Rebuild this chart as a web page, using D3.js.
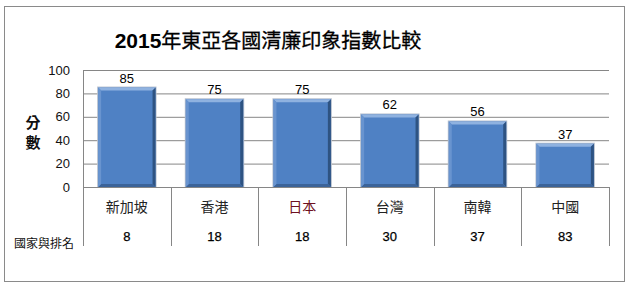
<!DOCTYPE html>
<html>
<head>
<meta charset="UTF-8">
<title>2015年東亞各國清廉印象指數比較</title>
<script src="https://cdn.jsdelivr.net/npm/d3@7"></script>
<style>
  body { margin: 0; background: #fff; }
  text { font-family: "Liberation Sans", "Noto Sans CJK TC", sans-serif; }
  .cjk { font-family: "Noto Sans CJK TC", sans-serif; }
</style>
</head>
<body>
<div id="chart"></div>
<script>
// data
var countries = ['新加坡', '香港', '日本', '台灣', '南韓', '中國'];
var scores = [85, 75, 75, 62, 56, 37];
var ranks = [8, 18, 18, 30, 37, 83];
var yTicks = [0, 20, 40, 60, 80, 100];

var W = 630, H = 287;
var plot = {left: 83, right: 609, top: 70, bottom: 187, tableBottom: 246};

var svg = d3.select('#chart').append('svg')
    .attr('width', W)
    .attr('height', H);

// outer frame
svg.append('rect')
    .attr('x', 4.5).attr('y', 6.5)
    .attr('width', 620).attr('height', 275)
    .attr('fill', '#fff')
    .attr('stroke', '#8a8a8a');

// title
var title = svg.append('text')
    .attr('x', 268).attr('y', 48)
    .attr('text-anchor', 'middle')
    .attr('font-size', 20)
    .attr('fill', '#000');
title.append('tspan').attr('font-weight', 'bold').attr('font-family', 'Liberation Sans').attr('font-size', 21).text('2015');
title.append('tspan').attr('class', 'cjk').attr('font-weight', 'normal').attr('stroke', '#000').attr('stroke-width', 0.3).text('年東亞各國清廉印象指數比較');

var xScale = d3.scaleBand()
    .domain(countries)
    .range([plot.left, plot.right])
    .padding(0);

var yScale = d3.scaleLinear()
    .domain([0, 100])
    .range([plot.bottom, plot.top]);

// grid + y labels
var yAxis = d3.axisLeft(yScale)
    .tickValues(yTicks)
    .tickSizeInner(-(plot.right - plot.left))
    .tickSizeOuter(0)
    .tickPadding(13);

var gy = svg.append('g')
    .attr('transform', 'translate(' + plot.left + ',0)')
    .call(yAxis);
gy.select('.domain').remove();
gy.selectAll('.tick line').attr('stroke', '#868686');
gy.selectAll('.tick text')
    .attr('font-size', 13)
    .attr('fill', '#111')
    .attr('font-family', 'Liberation Sans');

// y axis title (stacked)
['分', '數'].forEach(function(ch, i) {
    svg.append('text')
        .attr('class', 'cjk')
        .attr('x', 33).attr('y', 128 + i * 20)
        .attr('text-anchor', 'middle')
        .attr('font-size', 15)
        .attr('font-weight', 'bold')
        .attr('fill', '#111')
        .text(ch);
});

// bars
var bw = xScale.bandwidth() * 0.655;
var bars = svg.append('g').selectAll('g')
    .data(scores)
    .enter().append('g')
    .attr('transform', function(d, i) {
        return 'translate(' + (xScale(countries[i]) + (xScale.bandwidth() - bw) / 2) + ',' + yScale(d) + ')';
    });

// soft shadow frame
bars.append('rect')
    .attr('x', -1).attr('y', -1)
    .attr('width', bw + 2)
    .attr('height', function(d) { return yScale(0) - yScale(d) + 2; })
    .attr('fill', '#b8c1cf');
bars.append('rect')
    .attr('width', bw)
    .attr('height', function(d) { return yScale(0) - yScale(d); })
    .attr('fill', '#4f81c4');
// bevel: top light, right dark, bottom dark, left light
bars.append('polygon')
    .attr('points', '0,0 ' + bw + ',0 ' + (bw - 3) + ',3 3,3')
    .attr('fill', '#8fb2e0');
bars.append('polygon')
    .attr('points', function(d) {
        var h = yScale(0) - yScale(d);
        return bw + ',0 ' + bw + ',' + h + ' ' + (bw - 3) + ',' + (h - 3) + ' ' + (bw - 3) + ',3';
    })
    .attr('fill', '#2e5382');
bars.append('polygon')
    .attr('points', function(d) {
        var h = yScale(0) - yScale(d);
        return '0,' + h + ' ' + bw + ',' + h + ' ' + (bw - 3) + ',' + (h - 3) + ' 3,' + (h - 3);
    })
    .attr('fill', '#3b6399');
bars.append('polygon')
    .attr('points', function(d) {
        var h = yScale(0) - yScale(d);
        return '0,0 3,3 3,' + (h - 3) + ' 0,' + h;
    })
    .attr('fill', '#6994cf');

// value labels
svg.append('g').selectAll('text')
    .data(scores)
    .enter().append('text')
    .attr('x', function(d, i) { return xScale(countries[i]) + xScale.bandwidth() / 2; })
    .attr('y', function(d) { return yScale(d) - 5; })
    .attr('text-anchor', 'middle')
    .attr('font-size', 13)
    .attr('fill', '#000')
    .text(function(d) { return d; });

// zero line / table top
svg.append('line')
    .attr('x1', plot.left).attr('x2', plot.right)
    .attr('y1', yScale(0) + 0.5).attr('y2', yScale(0) + 0.5)
    .attr('stroke', '#868686');

// vertical axis and table dividers
var dividers = countries.map(function(c) { return xScale(c); }).concat([plot.right]);
svg.append('line')
    .attr('x1', plot.left + 0.5).attr('x2', plot.left + 0.5)
    .attr('y1', plot.top).attr('y2', plot.tableBottom)
    .attr('stroke', '#868686');
svg.append('g').selectAll('line')
    .data(dividers.slice(1))
    .enter().append('line')
    .attr('x1', function(d) { return Math.round(d) + 0.5; })
    .attr('x2', function(d) { return Math.round(d) + 0.5; })
    .attr('y1', yScale(0)).attr('y2', plot.tableBottom)
    .attr('stroke', '#868686');

// category labels
svg.append('g').selectAll('text')
    .data(countries)
    .enter().append('text')
    .attr('class', 'cjk')
    .attr('x', function(d) { return xScale(d) + xScale.bandwidth() / 2; })
    .attr('y', 212)
    .attr('text-anchor', 'middle')
    .attr('font-size', 14)
    .attr('fill', function(d) { return d === '日本' ? '#6e1020' : '#222'; })
    .text(function(d) { return d; });

// rank row
svg.append('g').selectAll('text')
    .data(ranks)
    .enter().append('text')
    .attr('x', function(d, i) { return xScale(countries[i]) + xScale.bandwidth() / 2; })
    .attr('y', 241)
    .attr('text-anchor', 'middle')
    .attr('font-size', 13)
    .attr('fill', '#000')
    .attr('stroke', '#000')
    .attr('stroke-width', 0.25)
    .text(function(d) { return d; });

svg.append('text')
    .attr('class', 'cjk')
    .attr('x', 14).attr('y', 248)
    .attr('font-size', 12)
    .attr('fill', '#111')
    .text('國家與排名');
</script>
</body>
</html>
